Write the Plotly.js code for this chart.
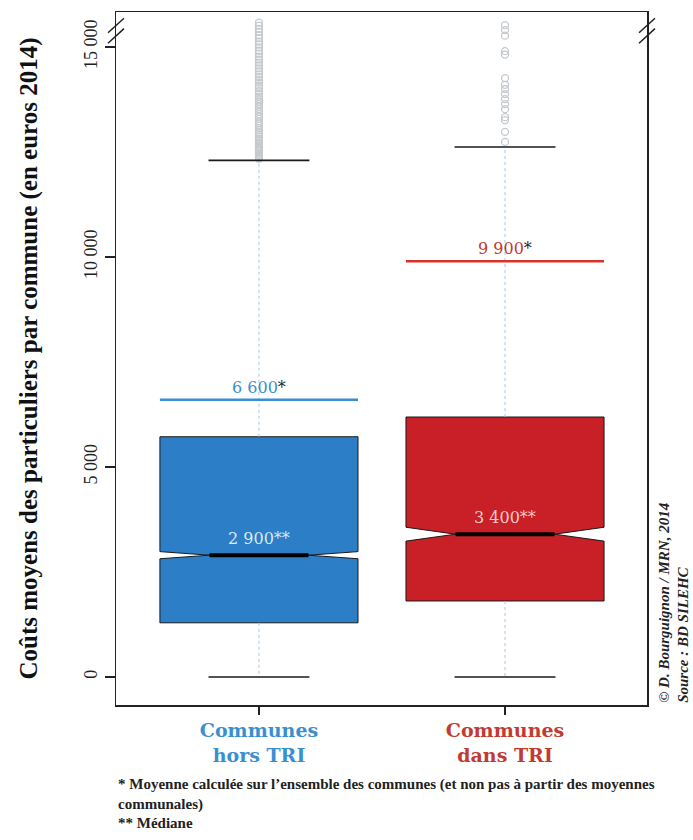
<!DOCTYPE html>
<html>
<head>
<meta charset="utf-8">
<script src="https://cdn.plot.ly/plotly-3.0.1.min.js"></script>
<style>html,body{margin:0;padding:0;background:#fff;}#chart{width:693px;height:840px;}</style>
</head>
<body>
<div id="chart"></div>
<script>
// ---- data ----
const categories = ["Communes<br>hors TRI", "Communes<br>dans TRI"];
const positions = [0, 1];
const q1Values = [1290, 1810];
const medianValues = [2900, 3400];
const q3Values = [5720, 6190];
const lowerWhiskers = [0, 0];
const upperWhiskers = [12300, 12620];
const notchSpans = [85, 165];
const meanValues = [6600, 9900];
const meanLabels = ["6 600", "9 900"];
const medianLabels = ["2 900", "3 400"];
const outliersHors = [12340, 12370, 12410, 12440, 12480, 12520, 12550, 12600, 12640, 12690, 12730, 12780, 12820, 12870, 12920, 12970, 13020, 13070, 13120, 13180, 13230, 13290, 13340, 13400, 13460, 13520, 13580, 13640, 13700, 13760, 13820, 13890, 13950, 14020, 14080, 14150, 14210, 14280, 14350, 14420, 14490, 14560, 14630, 14700, 14770, 14840, 14910, 14990, 15060, 15130, 15210, 15280, 15360, 15430, 15510, 15580];
const outliersDans = [12740, 12980, 13260, 13330, 13520, 13640, 13760, 13880, 14000, 14100, 14260, 14820, 14900, 15270, 15400, 15520];
const yTickVals = [0, 5000, 10000, 15000];
const yTickText = ["0", "5 000", "10 000", "15 000"];

// ---- styles ----
const fills = ["#2c7ec6", "#c91f26"];
const meanColors = ["#3a8ed3", "#d8322c"];
const labelColors = ["#3a8fd0", "#c23a30"];
const medianTextColors = ["#dbe8f5", "#f3cccc"];
const boxWidth = 0.805;
const capHalf = 0.205;
const notchHalf = boxWidth * 0.25;
const serif = "DejaVu Serif, serif";
const times = "Liberation Serif, serif";

const traces = [];
const outlierSets = [outliersHors, outliersDans];

positions.forEach((p, i) => {
  // whiskers (dotted)
  traces.push({
    type: "scatter", mode: "lines", hoverinfo: "skip", showlegend: false,
    x: [p, p, null, p, p],
    y: [q3Values[i], upperWhiskers[i], null, q1Values[i], lowerWhiskers[i]],
    line: {color: "#a8c6e0", width: 1, dash: "3px,3px"}
  });
});

positions.forEach((p, i) => {
  traces.push({
    type: "box", x: [p], q1: [q1Values[i]], median: [medianValues[i]], q3: [q3Values[i]],
    lowerfence: [q1Values[i]], upperfence: [q3Values[i]],
    notched: true, notchspan: [notchSpans[i]], notchwidth: 0.25,
    width: boxWidth, whiskerwidth: 0, boxpoints: false,
    fillcolor: fills[i], line: {color: "#1a1a1a", width: 1},
    hoverinfo: "skip", showlegend: false
  });
});

positions.forEach((p, i) => {
  // outliers
  traces.push({
    type: "scatter", mode: "markers", hoverinfo: "skip", showlegend: false,
    x: outlierSets[i].map(() => p), y: outlierSets[i],
    marker: {symbol: "circle-open", size: 7, color: "#c4c9ce", line: {width: 1.3, color: "#c6cacf"}}
  });
  // thick median
  traces.push({
    type: "scatter", mode: "lines", hoverinfo: "skip", showlegend: false,
    x: [p - notchHalf, p + notchHalf], y: [medianValues[i], medianValues[i]],
    line: {color: "#000", width: 4}
  });
  // caps
  traces.push({
    type: "scatter", mode: "lines", hoverinfo: "skip", showlegend: false,
    x: [p - capHalf, p + capHalf, null, p - capHalf, p + capHalf],
    y: [upperWhiskers[i], upperWhiskers[i], null, lowerWhiskers[i], lowerWhiskers[i]],
    line: {color: "#1a1a1a", width: 1.6}
  });
  // mean line
  traces.push({
    type: "scatter", mode: "lines", hoverinfo: "skip", showlegend: false,
    x: [p - boxWidth / 2, p + boxWidth / 2], y: [meanValues[i], meanValues[i]],
    line: {color: meanColors[i], width: 2.5}
  });
});

const annotations = [];
positions.forEach((p, i) => {
  annotations.push({
    x: p, y: meanValues[i], xref: "x", yref: "y", yanchor: "bottom", yshift: 1, showarrow: false,
    text: '<span style="color:' + labelColors[i] + '">' + meanLabels[i] + '</span><span style="color:#222">*</span>',
    font: {family: serif, size: 16}
  });
  annotations.push({
    x: p, y: medianValues[i], xref: "x", yref: "y", yanchor: "bottom", yshift: 5, showarrow: false,
    text: medianLabels[i] + "**",
    font: {family: serif, size: 16, color: medianTextColors[i]}
  });
});
annotations.push({
  xref: "paper", yref: "paper", x: 1.012, y: 0, xanchor: "left", yanchor: "bottom",
  showarrow: false, textangle: -90, align: "left",
  text: "<b><i>© D. Bourguignon / MRN, 2014<br>Source : BD SILEHC</i></b>",
  font: {family: times, size: 15, color: "#222"}
});
annotations.push({
  xref: "paper", yref: "paper", x: 0, y: -0.1, xanchor: "left", yanchor: "top",
  showarrow: false, align: "left",
  text: "<b>* Moyenne calculée sur l’ensemble des communes (et non pas à partir des moyennes<br>communales)<br>** Médiane</b>",
  font: {family: times, size: 15, color: "#222"}
});

const tickText = categories.map((c, i) =>
  c.split("<br>").map(s => '<span style="color:' + labelColors[i] + '"><b>' + s + '</b></span>').join("<br>"));

// axis break marks
const brk = (xc) => [
  {type: "line", xref: "paper", yref: "paper", x0: xc - 0.015, x1: xc + 0.015, y0: 0.970, y1: 0.991, line: {color: "#222", width: 1.5}},
  {type: "line", xref: "paper", yref: "paper", x0: xc - 0.015, x1: xc + 0.015, y0: 0.955, y1: 0.976, line: {color: "#222", width: 1.5}}
];

const layout = {
  width: 693, height: 840,
  margin: {l: 116, r: 46, t: 12, b: 135},
  paper_bgcolor: "#fff", plot_bgcolor: "#fff",
  showlegend: false,
  xaxis: {
    range: [-0.581, 1.577], tickvals: positions, ticktext: tickText,
    ticks: "outside", ticklen: 8, tickcolor: "#222", tickwidth: 1.5,
    showgrid: false, zeroline: false, showline: true, mirror: true, linecolor: "#222", linewidth: 1.5,
    tickfont: {family: serif, size: 19}
  },
  yaxis: {
    range: [-667, 15833], tickvals: yTickVals, ticktext: yTickText, tickangle: -90,
    ticks: "outside", ticklen: 10, tickcolor: "#222", tickwidth: 1.2,
    showgrid: false, zeroline: false, showline: true, mirror: true, linecolor: "#222", linewidth: 1.5,
    tickfont: {family: times, size: 18, color: "#222"},
    title: {text: "<b>Coûts moyens des particuliers par commune (en euros 2014)</b>", standoff: 36,
            font: {family: times, size: 25, color: "#111"}}
  },
  annotations: annotations,
  shapes: brk(0).concat(brk(1))
};

Plotly.newPlot("chart", traces, layout, {staticPlot: true, displayModeBar: false});
</script>
</body>
</html>
